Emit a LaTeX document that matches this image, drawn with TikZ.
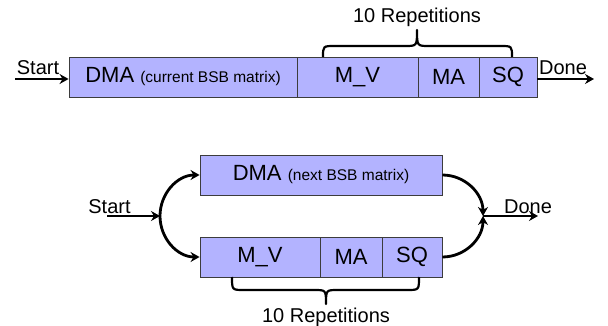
\documentclass[tikz,border=0pt]{standalone}
\usepackage{fontspec}
\setmainfont{Liberation Sans}
\usetikzlibrary{arrows.meta}
\definecolor{boxfill}{RGB}{179,179,255}
\definecolor{boxline}{RGB}{60,60,60}
\begin{document}
\begin{tikzpicture}[x=1pt,y=-1pt,
  blk/.style={draw=boxline,line width=0.9pt,fill=boxfill,minimum height=40pt,inner sep=0pt,font=\fontsize{22}{24}\selectfont},
  flow/.style={line width=2.8pt,-{Stealth[length=9pt,width=10pt,inset=3pt]}},
  brc/.style={line width=2.2pt,line join=round},
  lbl/.style={font=\fontsize{20}{22}\selectfont,inner sep=0pt,anchor=base}]
\useasboundingbox (0,0) rectangle (608,326);
% ---------- top ----------
\node[blk,minimum width=228pt] (dma1) at (183,77) {DMA {\fontsize{15.5}{17}\selectfont (current BSB matrix)}};
\node[blk,minimum width=121pt] (mv1) at (357.5,77) {M\_V};
\node[blk,minimum width=61pt] (ma1) at (448.5,77) {MA};
\node[blk,minimum width=58pt] (sq1) at (508,77) {SQ};
\coordinate (s1) at (15,79);
\coordinate (d1) at (594,79);
\node[lbl] (start1) at (38,75) {Start};
\node[lbl] (done1) at (563,75) {Done};
\draw[flow] (s1) -- (s1 -| dma1.west);
\draw[flow] (d1 -| sq1.east) -- (d1);
\draw[brc] (323,57) .. controls (323,46) .. (335,46) -- (405,46) .. controls (417,46) .. (417,30)
  .. controls (417,46) .. (429,46) -- (500,46) .. controls (512,46) .. (512,57);
\node[lbl] (rep1) at (417,23) {10 Repetitions};
% ---------- bottom ----------
\node[blk,minimum width=242pt] (dma2) at (321,175) {DMA {\fontsize{15.5}{17}\selectfont (next BSB matrix)}};
\node[blk,minimum width=120pt] (mv2) at (260,257) {M\_V};
\node[blk,minimum width=62pt] (ma2) at (351,257) {MA};
\node[blk,minimum width=60pt] (sq2) at (412,257) {SQ};
\coordinate (s2) at (107,216);
\coordinate (split) at (160,216);
\coordinate (join) at (483,216);
\coordinate (d2) at (538,216);
\node[lbl] (start2) at (109.5,213) {Start};
\node[lbl] (done2) at (528,213) {Done};
\draw[flow] (s2) -- (split);
\draw[flow] (split) to[out=90,in=180] (dma2.west);
\draw[flow] (split) to[out=-90,in=180] (mv2.west);
\draw[flow] (dma2.east) to[out=0,in=90] (join);
\draw[flow] (sq2.east) to[out=0,in=-90] (join);
\draw[flow] (join) -- (d2);
\draw[brc] (232,277) .. controls (232,290) .. (244,290) -- (314,290) .. controls (326,290) .. (326,304)
  .. controls (326,290) .. (338,290) -- (407,290) .. controls (419,290) .. (419,277);
\node[lbl] (rep2) at (326,322) {10 Repetitions};
\end{tikzpicture}
\end{document}
